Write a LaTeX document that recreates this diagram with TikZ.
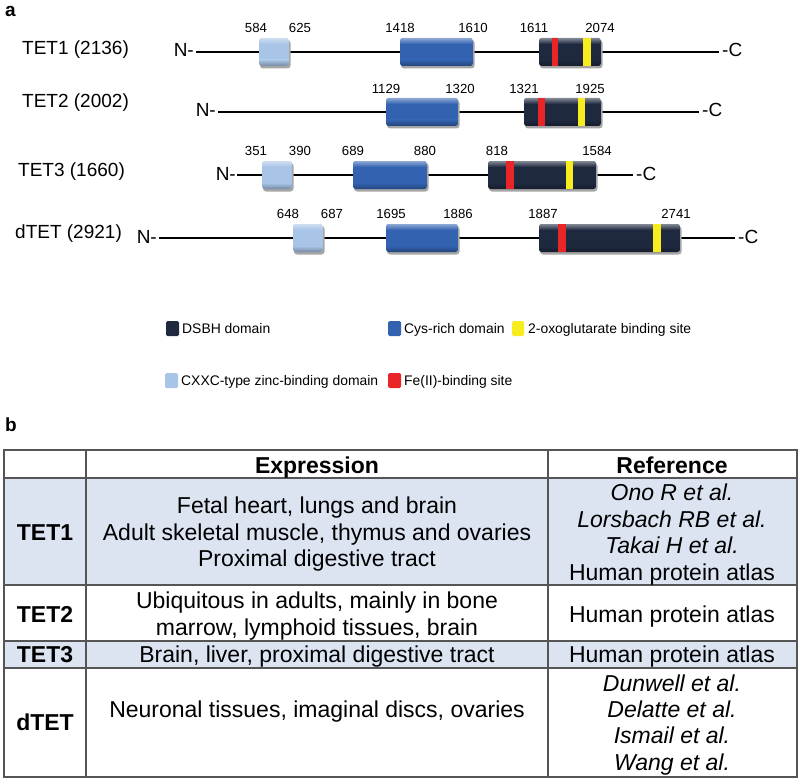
\documentclass[tikz,border=0pt]{standalone}
\usepackage{fontspec}
\setmainfont{Liberation Sans}
\definecolor{cxxc}{RGB}{168,196,230}
\definecolor{cys}{RGB}{50,98,176}
\definecolor{dsbh}{RGB}{30,40,62}
\definecolor{fered}{RGB}{232,38,42}
\definecolor{oxyel}{RGB}{246,236,30}
\definecolor{band}{RGB}{220,228,242}
\definecolor{gridc}{RGB}{85,85,85}
\newcommand{\tetbox}[4]{%
  \fill[black!35, rounded corners=3pt] (#2+1,#4-12) rectangle (#3+1.5,#4+16.5);
  \begin{scope}
    \clip[rounded corners=3pt] (#2,#4-14) rectangle (#3,#4+14);
    \fill[#1] (#2,#4-14) rectangle (#3,#4+14);
    \shade[top color=#1!55!white, bottom color=#1] (#2,#4-14) rectangle (#3,#4-8);
    \shade[top color=#1, bottom color=#1!70!black] (#2,#4+8) rectangle (#3,#4+14);
  \end{scope}
}
\newcommand{\tetstripe}[4]{%
  \fill[#1] (#2,#4-14) rectangle (#3,#4+14);
}
\begin{document}
\begin{tikzpicture}[x=1pt,y=-1pt,
  namelbl/.style={font=\fontsize{19}{22}\selectfont, inner sep=0, anchor=base west},
  numlbl/.style={font=\fontsize{13.2}{15}\selectfont, inner sep=0, anchor=base},
  termlbl/.style={font=\fontsize{19}{22}\selectfont, inner sep=0},
  leglbl/.style={font=\fontsize{13.9}{16}\selectfont, inner sep=0, anchor=base west},
  swatch/.style={rounded corners=1.5pt},
  backbone/.style={line width=1.8pt, black},
  cell/.style={font=\fontsize{23}{27}\selectfont, inner sep=0, anchor=base},
  celli/.style={font=\itshape\fontsize{23}{27}\selectfont, inner sep=0, anchor=base},
  cellb/.style={font=\bfseries\fontsize{23}{27}\selectfont, inner sep=0, anchor=base},
  gridline/.style={gridc, line width=1.2pt}
]
\useasboundingbox (0,0) rectangle (800,781);

% panel letters
\node[font=\bfseries\fontsize{19}{22}\selectfont, inner sep=0, anchor=base west] (pa) at (5,17) {a};
\node[font=\bfseries\fontsize{19}{22}\selectfont, inner sep=0, anchor=base west] (pb) at (5,431) {b};

% ---------- TET1 ----------
\node[namelbl] (t1) at (22,55) {TET1 (2136)};
\coordinate (s1) at (196,52); \coordinate (e1) at (719,52);
\node[termlbl, anchor=base east] (n1) at (194,57) {N-};
\node[termlbl, anchor=base west] (c1) at (722,57) {-C};
\draw[backbone] (s1) -- (e1);
\tetbox{cxxc}{259}{289}{52}
\tetbox{cys}{400}{473}{52}
\tetbox{dsbh}{539}{601}{52}
\tetstripe{fered}{552}{558}{52}
\tetstripe{oxyel}{583}{591}{52}
\node[numlbl] (a1) at (256,33) {584};
\node[numlbl] (a2) at (300,33) {625};
\node[numlbl] (a3) at (400,33) {1418};
\node[numlbl] (a4) at (473,33) {1610};
\node[numlbl] (a5) at (534,33) {1611};
\node[numlbl] (a6) at (600,33) {2074};

% ---------- TET2 ----------
\node[namelbl] (t2) at (22,108) {TET2 (2002)};
\coordinate (s2) at (218,112); \coordinate (e2) at (699,112);
\node[termlbl, anchor=base east] (n2) at (216,117) {N-};
\node[termlbl, anchor=base west] (c2) at (702,117) {-C};
\draw[backbone] (s2) -- (e2);
\tetbox{cys}{386}{458}{112}
\tetbox{dsbh}{524}{601}{112}
\tetstripe{fered}{538}{545}{112}
\tetstripe{oxyel}{578}{585}{112}
\node[numlbl] (b1) at (386,94) {1129};
\node[numlbl] (b2) at (460,94) {1320};
\node[numlbl] (b3) at (524,94) {1321};
\node[numlbl] (b4) at (590,94) {1925};

% ---------- TET3 ----------
\node[namelbl] (t3) at (18,176) {TET3 (1660)};
\coordinate (s3) at (237,175); \coordinate (e3) at (633,175);
\node[termlbl, anchor=base east] (n3) at (236,180) {N-};
\node[termlbl, anchor=base west] (c3) at (636,180) {-C};
\draw[backbone] (s3) -- (e3);
\tetbox{cxxc}{262}{292}{175}
\tetbox{cys}{353}{427}{175}
\tetbox{dsbh}{488}{596}{175}
\tetstripe{fered}{506}{514}{175}
\tetstripe{oxyel}{566}{573}{175}
\node[numlbl] (d1) at (256,155) {351};
\node[numlbl] (d2) at (300,155) {390};
\node[numlbl] (d3) at (353,155) {689};
\node[numlbl] (d4) at (425,155) {880};
\node[numlbl] (d5) at (497,155) {818};
\node[numlbl] (d6) at (597,155) {1584};

% ---------- dTET ----------
\node[namelbl] (t4) at (15,238) {dTET (2921)};
\coordinate (s4) at (159,238); \coordinate (e4) at (735,238);
\node[termlbl, anchor=base east] (n4) at (157,243) {N-};
\node[termlbl, anchor=base west] (c4) at (738,243) {-C};
\draw[backbone] (s4) -- (e4);
\tetbox{cxxc}{293}{323}{238}
\tetbox{cys}{386}{458}{238}
\tetbox{dsbh}{539}{680}{238}
\tetstripe{fered}{558}{566}{238}
\tetstripe{oxyel}{653}{661}{238}
\node[numlbl] (f1) at (288,218) {648};
\node[numlbl] (f2) at (332,218) {687};
\node[numlbl] (f3) at (391,218) {1695};
\node[numlbl] (f4) at (458,218) {1886};
\node[numlbl] (f5) at (543,218) {1887};
\node[numlbl] (f6) at (676,218) {2741};

% ---------- legend ----------
\fill[dsbh, swatch] (166,321) rectangle (179,336);
\node[leglbl] (l1) at (182,333) {DSBH domain};
\fill[cys, swatch] (388,321) rectangle (401,336);
\node[leglbl] (l2) at (404,333) {Cys-rich domain};
\fill[oxyel, swatch] (512,321) rectangle (524,336);
\node[leglbl] (l3) at (528,333) {2-oxoglutarate binding site};
\fill[cxxc, swatch] (165,373) rectangle (178,388);
\node[leglbl] (l4) at (181,385) {CXXC-type zinc-binding domain};
\fill[fered, swatch] (388,373) rectangle (401,388);
\node[leglbl] (l5) at (404,385) {Fe(II)-binding site};

% ---------- table ----------
\fill[band] (4,478) rectangle (797,585);
\fill[band] (4,641) rectangle (797,668);
\draw[gridline] (4,450) rectangle (797,777);
\draw[gridline] (4,478) -- (797,478);
\draw[gridline] (4,585) -- (797,585);
\draw[gridline] (4,641) -- (797,641);
\draw[gridline] (4,668) -- (797,668);
\draw[gridline] (86,450) -- (86,777);
\draw[gridline] (548,450) -- (548,777);

\node[cellb] (h1) at (317,473) {Expression};
\node[cellb] (h2) at (672,473) {Reference};

\node[cellb] (r1) at (45,540) {TET1};
\node[cell] (r1e1) at (317,513) {Fetal heart, lungs and brain};
\node[cell] (r1e2) at (317,540) {Adult skeletal muscle, thymus and ovaries};
\node[cell] (r1e3) at (317,566) {Proximal digestive tract};
\node[celli] (r1r1) at (672,500) {Ono R et al.};
\node[celli] (r1r2) at (672,527) {Lorsbach RB et al.};
\node[celli] (r1r3) at (672,553) {Takai H et al.};
\node[cell] (r1r4) at (672,580) {Human protein atlas};

\node[cellb] (r2) at (45,622) {TET2};
\node[cell] (r2e1) at (317,608) {Ubiquitous in adults, mainly in bone};
\node[cell] (r2e2) at (317,635) {marrow, lymphoid tissues, brain};
\node[cell] (r2r1) at (672,622) {Human protein atlas};

\node[cellb] (r3) at (45,662) {TET3};
\node[cell] (r3e1) at (317,662) {Brain, liver, proximal digestive tract};
\node[cell] (r3r1) at (672,662) {Human protein atlas};

\node[cellb] (r4) at (45,730) {dTET};
\node[cell] (r4e1) at (317,717) {Neuronal tissues, imaginal discs, ovaries};
\node[celli] (r4r1) at (672,691) {Dunwell et al.};
\node[celli] (r4r2) at (672,717) {Delatte et al.};
\node[celli] (r4r3) at (672,743) {Ismail et al.};
\node[celli] (r4r4) at (672,770) {Wang et al.};
\end{tikzpicture}
\end{document}
